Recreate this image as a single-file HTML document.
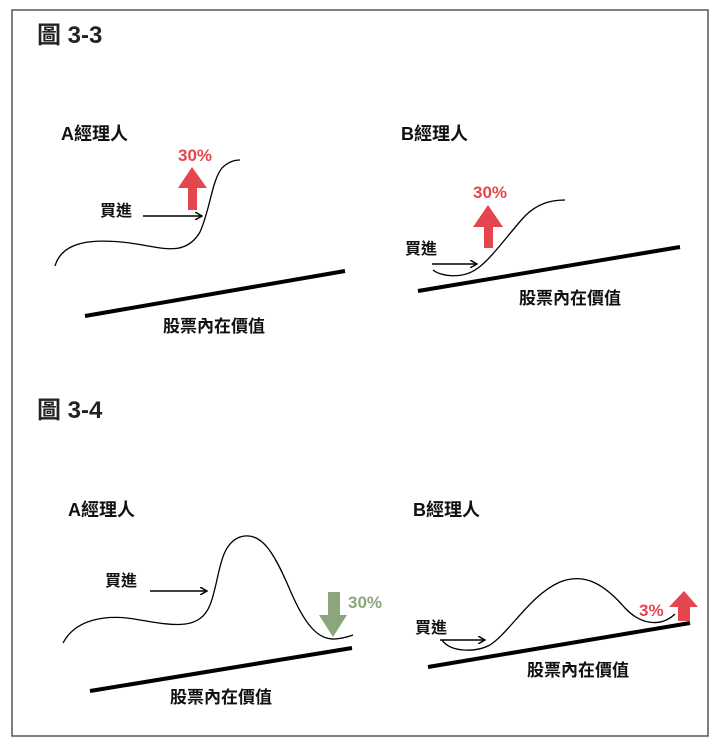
<!DOCTYPE html>
<html><head><meta charset="utf-8"><style>
html,body{margin:0;padding:0;background:#fff;}
svg{display:block;}
text{font-family:"Liberation Sans","Noto Sans CJK TC",sans-serif;font-weight:bold;}
</style></head><body>
<svg width="719" height="750" viewBox="0 0 719 750" xmlns="http://www.w3.org/2000/svg">
<defs>
<marker id="ah" markerWidth="8" markerHeight="8" refX="7" refY="4" orient="auto" markerUnits="userSpaceOnUse">
<path d="M0,0 L7,4 L0,8" fill="none" stroke="#000" stroke-width="1.5"/></marker>
</defs>
<rect x="12" y="10" width="696" height="726" fill="#fff" stroke="#555" stroke-width="1.5"/>
<text x="37" y="43" font-size="24" fill="#222">圖 3-3</text>
<text x="37" y="418" font-size="24" fill="#222">圖 3-4</text>

<!-- 3-3 A -->
<text x="61" y="140" font-size="18" fill="#111">A經理人</text>
<text x="178" y="161" font-size="17" fill="#e5464d">30%</text>
<path d="M192,167 L207,188 L197,188 L197,210 L188,210 L188,188 L178,188 Z" fill="#e5464d"/>
<text x="100" y="216" font-size="16" fill="#111">買進</text>
<line x1="143" y1="216" x2="202" y2="216" stroke="#000" stroke-width="1.5" marker-end="url(#ah)"/>
<path d="M55,266 C62,242 90,238 130,243 C160,247 185,258 200,232 C210,210 212,180 222,168 C228,162 234,160 240,160" fill="none" stroke="#000" stroke-width="1.3"/>
<line x1="85" y1="316" x2="345" y2="271" stroke="#000" stroke-width="4"/>
<text x="163" y="332" font-size="17" fill="#111">股票內在價值</text>

<!-- 3-3 B -->
<text x="401" y="140" font-size="18" fill="#111">B經理人</text>
<text x="473" y="198" font-size="17" fill="#e5464d">30%</text>
<path d="M488,205 L503,227 L493,227 L493,248 L484,248 L484,227 L473,227 Z" fill="#e5464d"/>
<text x="405" y="254" font-size="16" fill="#111">買進</text>
<line x1="432" y1="264" x2="477" y2="264" stroke="#000" stroke-width="1.5" marker-end="url(#ah)"/>
<path d="M433,270 C440,276 462,280 478,268 C492,258 510,232 525,216 C537,204 550,200 565,200" fill="none" stroke="#000" stroke-width="1.3"/>
<line x1="418" y1="291" x2="680" y2="247" stroke="#000" stroke-width="4"/>
<text x="519" y="304" font-size="17" fill="#111">股票內在價值</text>

<!-- 3-4 A -->
<text x="68" y="516" font-size="18" fill="#111">A經理人</text>
<text x="105" y="586" font-size="16" fill="#111">買進</text>
<line x1="150" y1="591" x2="207" y2="591" stroke="#000" stroke-width="1.5" marker-end="url(#ah)"/>
<path d="M63,643 C75,620 105,613 140,620 C175,626 200,630 210,605 C220,580 218,545 240,537 C262,530 275,555 290,590 C305,625 318,640 335,639 C345,638 350,636 353,635" fill="none" stroke="#000" stroke-width="1.3"/>
<path d="M328,592 L340,592 L340,615 L347,615 L333,637 L319,615 L328,615 Z" fill="#8aa67a"/>
<text x="348" y="608" font-size="17" fill="#8aa67a">30%</text>
<line x1="90" y1="691" x2="352" y2="648" stroke="#000" stroke-width="4"/>
<text x="170" y="703" font-size="17" fill="#111">股票內在價值</text>

<!-- 3-4 B -->
<text x="413" y="516" font-size="18" fill="#111">B經理人</text>
<text x="415" y="633" font-size="16" fill="#111">買進</text>
<line x1="440" y1="640" x2="485" y2="640" stroke="#000" stroke-width="1.5" marker-end="url(#ah)"/>
<path d="M442,640 C450,652 475,653 490,645 C510,632 530,595 560,582 C585,572 605,585 625,608 C640,624 660,628 675,614" fill="none" stroke="#000" stroke-width="1.3"/>
<path d="M684,591 L698,607 L690,607 L690,621 L678,621 L678,607 L669,607 Z" fill="#e5464d"/>
<text x="639" y="616" font-size="17" fill="#e5464d">3%</text>
<line x1="428" y1="667" x2="690" y2="623" stroke="#000" stroke-width="4"/>
<text x="527" y="676" font-size="17" fill="#111">股票內在價值</text>
</svg>
</body></html>
